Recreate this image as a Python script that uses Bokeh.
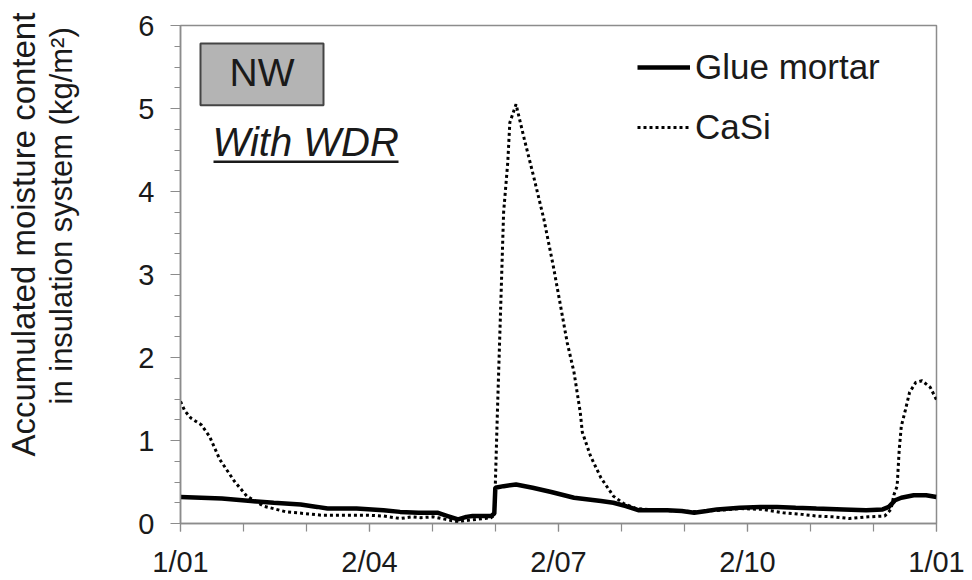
import numpy as np
from bokeh.plotting import figure
from bokeh.models import (FixedTicker, Label, BoxAnnotation, Legend, LegendItem,
                          Range1d, Title, ColorBar, LinearColorMapper)
from bokeh.embed import file_html
from bokeh.resources import INLINE

# ---------------- data (day of year, accumulated moisture kg/m2) ----------------
glue_days = [0, 10, 20, 34, 45, 58, 66, 71, 85, 98, 106, 115, 124, 129, 134, 138,
             141, 146, 150, 151.5, 152, 156, 162, 170, 179, 190, 203, 209, 215,
             221, 235, 242, 248, 254, 259, 270, 280, 288, 297, 307, 320, 331,
             339, 342, 345, 348, 354, 360, 365]
glue_vals = [0.32, 0.31, 0.30, 0.27, 0.25, 0.23, 0.20, 0.18, 0.18, 0.16, 0.14,
             0.13, 0.13, 0.09, 0.05, 0.08, 0.09, 0.09, 0.09, 0.12, 0.43, 0.45,
             0.47, 0.43, 0.38, 0.31, 0.27, 0.25, 0.21, 0.16, 0.16, 0.15, 0.13,
             0.15, 0.17, 0.19, 0.20, 0.20, 0.19, 0.18, 0.17, 0.16, 0.17, 0.20,
             0.28, 0.31, 0.34, 0.34, 0.32]

casi_days = [0, 2, 5, 10, 14, 19, 26, 32, 40, 51, 60, 68, 80, 90, 98, 106, 112,
             116, 122, 128, 134, 139, 143, 150, 151.5, 152, 153, 154, 155, 156,
             158, 159, 162, 166, 170.5, 175.5, 180, 183.5, 186.7, 190, 193, 194,
             198, 203, 209, 214, 220, 230, 242, 250, 260, 270, 281, 291, 300,
             307, 315, 323, 332, 340, 343, 344.5, 346, 347, 348, 350, 352, 355,
             358, 362, 365]
casi_vals = [1.47, 1.36, 1.27, 1.19, 1.05, 0.77, 0.51, 0.33, 0.21, 0.14, 0.12,
             0.10, 0.10, 0.10, 0.09, 0.06, 0.08, 0.07, 0.08, 0.05, 0.02, 0.04,
             0.05, 0.07, 0.10, 0.47, 1.34, 2.14, 2.94, 3.75, 4.35, 4.83, 5.05,
             4.63, 4.18, 3.66, 3.10, 2.62, 2.18, 1.82, 1.34, 1.10, 0.81, 0.55,
             0.33, 0.24, 0.18, 0.16, 0.15, 0.14, 0.16, 0.18, 0.17, 0.13, 0.11,
             0.09, 0.08, 0.06, 0.08, 0.09, 0.17, 0.35, 0.45, 0.89, 1.17, 1.37,
             1.58, 1.70, 1.72, 1.64, 1.49]

series_names = ["Glue mortar", "CaSi"]
x_tick_months = [0, 3, 6, 9, 12]
x_tick_labels = ["1/01", "2/04", "2/07", "2/10", "1/01"]
y_ticks = [0, 1, 2, 3, 4, 5, 6]
y_title_lines = ["Accumulated moisture content", "in insulation system (kg/m²)"]

DAYS_PER_YEAR = 365.0

# x expressed in months (0..12) so that ticks fall on integers
glue_x = np.array(glue_days) * 12.0 / DAYS_PER_YEAR
casi_x = np.array(casi_days) * 12.0 / DAYS_PER_YEAR

# ---------------- layout ----------------
W, H = 972, 580
L, R, T, B = 180, 36, 25, 56
FW, FH = W - L - R, H - T - B

def mx(px):
    return (px - L) / FW * 12.0

def vy(py):
    return (H - B - py) / FH * 6.0

FONT = "Liberation Sans"
GREY = "#8c8c8c"
TXT = "#1a1a1a"
TEXT_SHIFT = 15  # label baseline correction (px)

p = figure(width=W, height=H, x_range=Range1d(0, 12), y_range=Range1d(0, 6),
           output_backend="svg", toolbar_location=None,
           min_border_left=L, min_border_right=R, min_border_top=T,
           min_border_bottom=B)
p.xgrid.visible = False
p.ygrid.visible = False
p.outline_line_color = GREY
p.outline_line_width = 1.5
p.background_fill_color = "white"
p.border_fill_color = "white"

# x axis
p.xaxis.ticker = FixedTicker(ticks=x_tick_months, minor_ticks=list(range(13)))
p.xaxis.major_label_overrides = {m: s for m, s in zip(x_tick_months, x_tick_labels)}
p.xaxis.axis_line_color = GREY
p.xaxis.axis_line_width = 1.5
p.xaxis.major_tick_line_color = GREY
p.xaxis.minor_tick_line_color = GREY
p.xaxis.major_tick_line_width = 1.2
p.xaxis.minor_tick_line_width = 1.2
p.xaxis.major_tick_in = 0
p.xaxis.major_tick_out = 8
p.xaxis.minor_tick_in = 0
p.xaxis.minor_tick_out = 8
p.xaxis.major_label_standoff = 14
p.xaxis.major_label_text_font = FONT
p.xaxis.major_label_text_font_size = "29px"
p.xaxis.major_label_text_color = TXT

# y axis
p.yaxis.ticker = FixedTicker(ticks=y_ticks, minor_ticks=[i * 0.25 for i in range(25)])
p.yaxis.axis_line_color = GREY
p.yaxis.axis_line_width = 1.5
p.yaxis.major_tick_line_color = GREY
p.yaxis.minor_tick_line_color = GREY
p.yaxis.major_tick_line_width = 1.2
p.yaxis.minor_tick_line_width = 1.2
p.yaxis.major_tick_in = 0
p.yaxis.major_tick_out = 10
p.yaxis.minor_tick_in = 0
p.yaxis.minor_tick_out = 6
p.yaxis.major_label_standoff = 16
p.yaxis.major_label_text_font = FONT
p.yaxis.major_label_text_font_size = "29px"
p.yaxis.major_label_text_color = TXT

# invisible spacer panel between the tick labels and the y title
spacer = ColorBar(color_mapper=LinearColorMapper(palette=["#ffffff"], low=0, high=1),
                  ticker=FixedTicker(ticks=[]), width=57, padding=0, margin=0,
                  scale_alpha=0, bar_line_color=None, border_line_color=None,
                  background_fill_alpha=0, major_tick_line_color=None,
                  minor_tick_line_color=None, title=None)
p.add_layout(spacer, "left")

# y title: two lines stacked outward from the axis
for txt, off, fs in [(y_title_lines[1], 119, "31px"), (y_title_lines[0], 67, "33px")]:
    p.add_layout(Title(text=txt, align="left", offset=off, standoff=0,
                       vertical_align="bottom", text_font=FONT,
                       text_font_size=fs, text_font_style="normal",
                       text_color=TXT), "left")

# series
r_glue = p.line(glue_x, glue_vals, line_color="black", line_width=4.5)
r_casi = p.line(casi_x, casi_vals, line_color="black", line_width=3,
                line_dash="3 3")

legend = Legend(items=[LegendItem(label=series_names[0], renderers=[r_glue]),
                       LegendItem(label=series_names[1], renderers=[r_casi])],
                location=(457, 376), orientation="vertical",
                glyph_width=53, glyph_height=20, label_standoff=5,
                padding=0, margin=0, spacing=20,
                border_line_color=None, background_fill_alpha=0,
                label_text_font=FONT, label_text_font_size="35px",
                label_text_color=TXT)
p.add_layout(legend)

# NW box
p.add_layout(BoxAnnotation(left=mx(200), right=mx(323), top=vy(43), bottom=vy(105),
                           fill_color="#b4b4b4", fill_alpha=1,
                           line_color="#444444", line_alpha=1, line_width=2))
p.add_layout(Label(x=mx(261.5), y=vy(87.3 - TEXT_SHIFT), text="NW",
                   text_align="center", text_baseline="alphabetic",
                   text_font=FONT, text_font_size="39px", text_color=TXT))

# With WDR (italic, underlined)
p.add_layout(Label(x=mx(212), y=vy(157 - TEXT_SHIFT), text="With WDR",
                   text_align="left", text_baseline="alphabetic",
                   text_font=FONT, text_font_style="italic",
                   text_font_size="40px", text_color=TXT))
p.add_layout(BoxAnnotation(left=mx(213), right=mx(398), top=vy(160.3),
                           bottom=vy(162.7), fill_color=TXT, fill_alpha=1,
                           line_color=None))

open("out.html", "w").write(file_html(p, INLINE))
